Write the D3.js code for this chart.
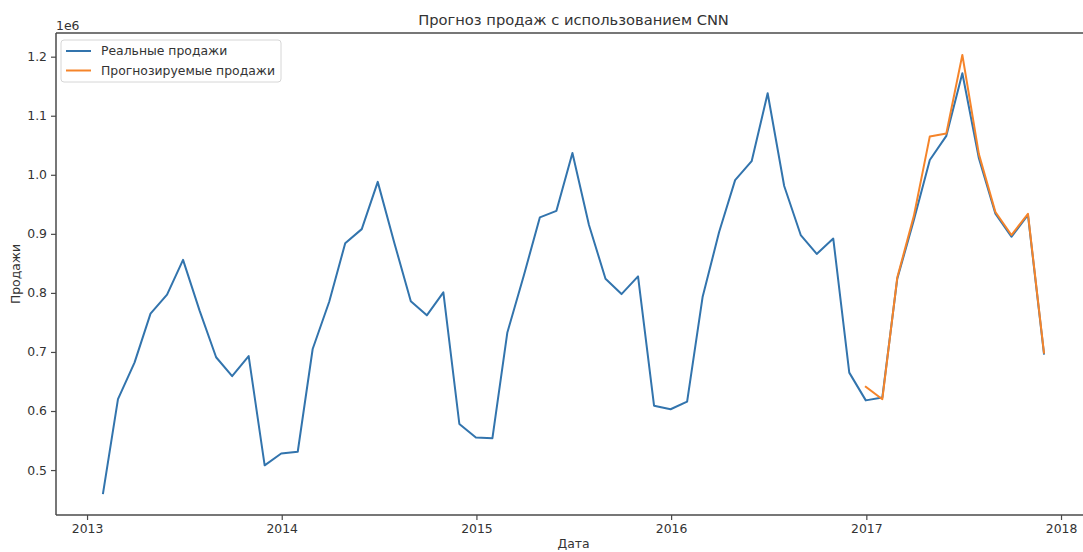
<!DOCTYPE html>
<html>
<head>
<meta charset="utf-8">
<script src="https://cdn.jsdelivr.net/npm/d3@7"></script>
<style>
  html, body { margin: 0; padding: 0; background: #fff; overflow: hidden; }
  svg { display: block; font-family: "DejaVu Sans", sans-serif; }
</style>
</head>
<body>
<svg id="chart" width="1083" height="552"></svg>
<script>
// ---- data ----
const dates = [
  "2013-01-31","2013-02-28","2013-03-31","2013-04-30","2013-05-31","2013-06-30",
  "2013-07-31","2013-08-31","2013-09-30","2013-10-31","2013-11-30","2013-12-31",
  "2014-01-31","2014-02-28","2014-03-31","2014-04-30","2014-05-31","2014-06-30",
  "2014-07-31","2014-08-31","2014-09-30","2014-10-31","2014-11-30","2014-12-31",
  "2015-01-31","2015-02-28","2015-03-31","2015-04-30","2015-05-31","2015-06-30",
  "2015-07-31","2015-08-31","2015-09-30","2015-10-31","2015-11-30","2015-12-31",
  "2016-01-31","2016-02-29","2016-03-31","2016-04-30","2016-05-31","2016-06-30",
  "2016-07-31","2016-08-31","2016-09-30","2016-10-31","2016-11-30","2016-12-31",
  "2017-01-31","2017-02-28","2017-03-31","2017-04-30","2017-05-31","2017-06-30",
  "2017-07-31","2017-08-31","2017-09-30","2017-10-31","2017-11-30"
];
const actualSales = [
  461000, 620000, 682000, 765000, 797000, 856000, 770000, 691000, 659000, 693000, 508000, 528000,
  531000, 705000, 785000, 884000, 908000, 988000, 885000, 786000, 762000, 801000, 578000, 555000,
  554000, 733000, 830000, 928000, 939000, 1037000, 915000, 824000, 798000, 828000, 609000, 603000,
  616000, 793000, 903000, 991000, 1023000, 1138000, 981000, 898000, 866000, 892000, 665000, 618000,
  623000, 824000, 923000, 1025000, 1066000, 1172000, 1028000, 934000, 895000, 932000, 697000
];
const forecastDates = [
  "2016-12-31","2017-01-31","2017-02-28","2017-03-31","2017-04-30","2017-05-31",
  "2017-06-30","2017-07-31","2017-08-31","2017-09-30","2017-10-31","2017-11-30"
];
const forecastSales = [
  641000, 620000, 826000, 930000, 1065000, 1070000, 1203000, 1035000, 937000, 898000, 934000, 699000
];
const yTicks = [500000, 600000, 700000, 800000, 900000, 1000000, 1100000, 1200000];
const seriesNames = ["Реальные продажи", "Прогнозируемые продажи"];
const titleText = "Прогноз продаж с использованием CNN";
const xLabel = "Дата";
const yLabel = "Продажи";
const offsetText = "1e6";

// ---- layout ----
const svg = d3.select("#chart");
const pL = 56, pR = 1091, pT = 33, pB = 515;
const blue = "#3274ad", orange = "#f5842a";
const textColor = "#333333", spineColor = "#4a4a4a";
const fs = "12.4px";

const parse = d3.timeParse("%Y-%m-%d");
const actual = dates.map((d, i) => ({ t: parse(d), v: actualSales[i] }));
const forecast = forecastDates.map((d, i) => ({ t: parse(d), v: forecastSales[i] }));
const all = actual.concat(forecast);

const tMin = d3.min(all, d => +d.t), tMax = d3.max(all, d => +d.t);
const tPad = (tMax - tMin) * 0.05;
const x = d3.scaleTime().domain([new Date(tMin - tPad), new Date(tMax + tPad)]).range([pL, pR]);
const vMin = d3.min(all, d => d.v), vMax = d3.max(all, d => d.v);
const vPad = (vMax - vMin) * 0.05;
const y = d3.scaleLinear().domain([vMin - vPad, vMax + vPad]).range([pB, pT]);

// axes
const xAxis = d3.axisBottom(x).ticks(d3.timeYear.every(1)).tickFormat(d3.timeFormat("%Y")).tickSize(5).tickPadding(4);
const yAxis = d3.axisLeft(y).tickValues(yTicks).tickFormat(d => (d / 1e6).toFixed(1)).tickSize(5).tickPadding(4);

const gx = svg.append("g").attr("transform", `translate(0,${pB})`).call(xAxis);
const gy = svg.append("g").attr("transform", `translate(${pL},0)`).call(yAxis);
[gx, gy].forEach(g => {
  g.select(".domain").remove();
  g.selectAll(".tick line").attr("stroke", spineColor).attr("stroke-width", 1.2);
  g.selectAll(".tick text").attr("fill", textColor).style("font-size", fs).style("font-family", "DejaVu Sans");
});

// lines
const line = d3.line().x(d => x(d.t)).y(d => y(d.v));
svg.append("path").datum(actual).attr("d", line)
  .attr("fill", "none").attr("stroke", blue).attr("stroke-width", 2).attr("stroke-linejoin", "round").attr("stroke-linecap", "square");
svg.append("path").datum(forecast).attr("d", line)
  .attr("fill", "none").attr("stroke", orange).attr("stroke-width", 2).attr("stroke-linejoin", "round").attr("stroke-linecap", "square");

// spines
const sp = svg.append("g").attr("stroke", spineColor).attr("stroke-width", 1.5);
sp.append("line").attr("x1", pL).attr("x2", pL).attr("y1", pT).attr("y2", pB);
sp.append("line").attr("x1", pL).attr("x2", pR).attr("y1", pB).attr("y2", pB);
sp.append("line").attr("x1", pL).attr("x2", pR).attr("y1", pT).attr("y2", pT);
sp.append("line").attr("x1", pR).attr("x2", pR).attr("y1", pT).attr("y2", pB);

// title and labels
svg.append("text").attr("x", (pL + pR) / 2).attr("y", 25).attr("text-anchor", "middle")
  .attr("fill", textColor).style("font-size", "14.7px").text(titleText);
svg.append("text").attr("x", (pL + pR) / 2).attr("y", 548).attr("text-anchor", "middle")
  .attr("fill", textColor).style("font-size", fs).text(xLabel);
svg.append("text").attr("transform", `translate(20,${(pT + pB) / 2}) rotate(-90)`).attr("text-anchor", "middle")
  .attr("fill", textColor).style("font-size", fs).text(yLabel);
svg.append("text").attr("x", pL).attr("y", 30).attr("fill", textColor).style("font-size", fs).text(offsetText);

// legend
const lg = svg.append("g");
lg.append("rect").attr("x", 61).attr("y", 40).attr("width", 220).attr("height", 42).attr("rx", 3)
  .attr("fill", "#fff").attr("fill-opacity", 0.8).attr("stroke", "#d6d6d6").attr("stroke-width", 1);
[blue, orange].forEach((c, i) => {
  const yy = 51 + i * 19.5;
  lg.append("line").attr("x1", 66).attr("x2", 91).attr("y1", yy).attr("y2", yy).attr("stroke", c).attr("stroke-width", 2);
  lg.append("text").attr("x", 101).attr("y", yy + 4.4).attr("fill", textColor).style("font-size", fs).text(seriesNames[i]);
});
</script>
</body>
</html>
